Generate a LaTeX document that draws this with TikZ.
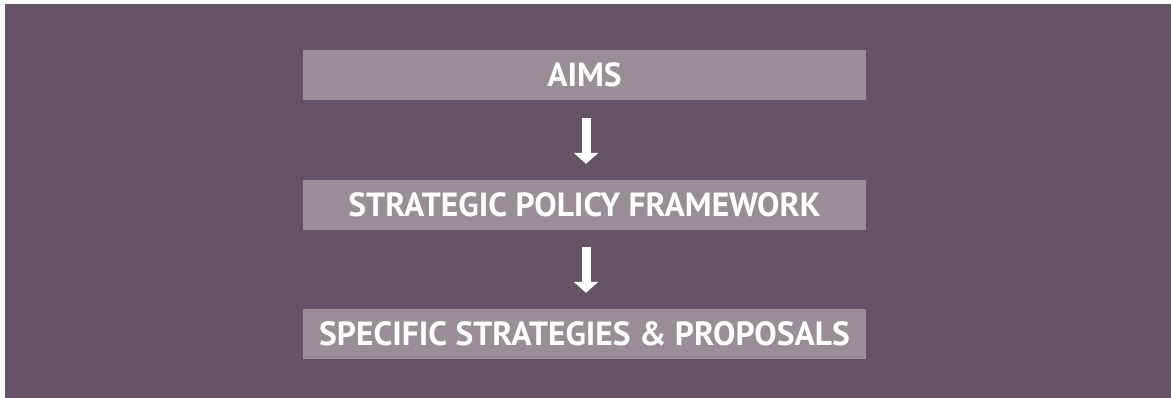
\documentclass[tikz,border=0pt]{standalone}
\usepackage{fontspec}
\setmainfont{PT Sans}
\usetikzlibrary{arrows.meta}
\definecolor{bgpurple}{RGB}{100,83,100}
\definecolor{boxmauve}{RGB}{153,141,150}
\begin{document}
\begin{tikzpicture}[x=1pt,y=-1pt,
  stage/.style={fill=boxmauve, minimum width=563pt, minimum height=50pt,
    inner sep=0pt, text height=23.5pt, text depth=0pt, text=white,
    font=\bfseries\fontsize{33.5}{33.5}\selectfont},
  flow/.style={white, line width=9pt, -{Triangle[width=24pt,length=11pt]}}]
\useasboundingbox (0,0) rectangle (1171,398);
\fill[bgpurple] (5,4) rectangle (1171,398);
\node[stage] (aims) at (584.5,75) {AIMS};
\node[stage] (policy) at (584.5,205) {STRATEGIC POLICY FRAMEWORK};
\node[stage] (specific) at (584.5,334) {SPECIFIC STRATEGIES \& PROPOSALS};
\draw[flow] ([xshift=1.5pt,yshift=-18pt]aims.south) -- ([xshift=1.5pt,yshift=16pt]policy.north);
\draw[flow] ([xshift=1.5pt,yshift=-17pt]policy.south) -- ([xshift=1.5pt,yshift=16pt]specific.north);
\end{tikzpicture}
\end{document}
